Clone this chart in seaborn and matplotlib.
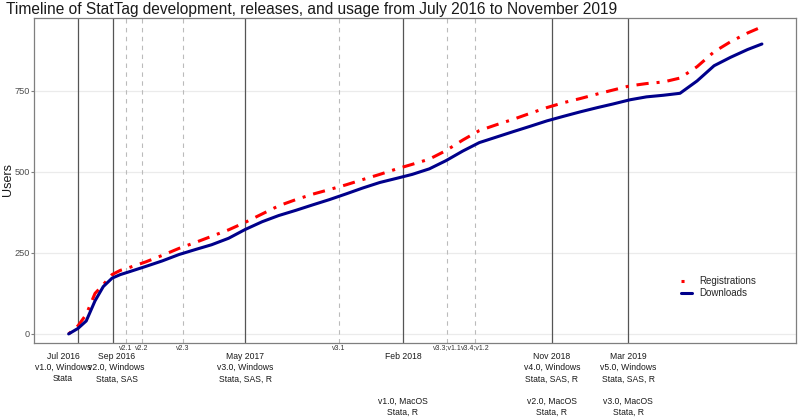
import numpy as np
import pandas as pd
import seaborn as sns
import matplotlib.pyplot as plt
import matplotlib.dates as mdates
from matplotlib.transforms import blended_transform_factory

# cumulative users
dates = ['2016-06-14', '2016-07-01', '2016-07-16', '2016-08-01', '2016-08-16', '2016-09-01',
         '2016-09-16', '2016-10-01', '2016-11-01', '2016-12-01', '2017-01-01', '2017-02-01',
         '2017-03-01', '2017-04-01', '2017-05-01', '2017-06-01', '2017-07-01', '2017-08-01',
         '2017-09-01', '2017-10-01', '2017-11-01', '2017-12-01', '2018-01-01', '2018-02-01',
         '2018-03-01', '2018-04-01', '2018-05-01', '2018-06-01', '2018-07-01', '2018-08-01',
         '2018-09-01', '2018-10-01', '2018-11-01', '2018-12-01', '2019-01-01', '2019-02-01',
         '2019-03-01', '2019-04-01', '2019-05-01', '2019-06-01', '2019-07-01', '2019-08-01',
         '2019-09-01', '2019-10-01', '2019-11-01', '2019-11-27']
registrations = [0, 25, 60, 125, 152, 183, 196, 204, 222, 242, 264, 283, 301, 321, 344, 370,
                 395, 414, 431, 445, 460, 476, 492, 509, 523, 539, 565, 598, 627, 645, 662,
                 680, 698, 713, 726, 740, 752, 765, 772, 777, 789, 824, 870, 901, 928, 947]
downloads = [0, 17, 40, 102, 146, 172, 183, 191, 208, 225, 245, 261, 275, 295, 322, 346,
             365, 381, 398, 414, 432, 450, 467, 480, 492, 509, 534, 564, 590, 607, 624,
             640, 657, 671, 685, 698, 709, 722, 731, 736, 742, 780, 827, 853, 877, 894]

release_dates = ['2016-07-01', '2016-09-02', '2017-05-01', '2018-02-12', '2018-11-10', '2019-03-29']
release_labels = [
    'Jul 2016\nv1.0, Windows\nStata',
    'Sep 2016\nv2.0, Windows\nStata, SAS',
    'May 2017\nv3.0, Windows\nStata, SAS, R',
    'Feb 2018\n\n\n\nv1.0, MacOS\nStata, R',
    'Nov 2018\nv4.0, Windows\nStata, SAS, R\n\nv2.0, MacOS\nStata, R',
    'Mar 2019\nv5.0, Windows\nStata, SAS, R\n\nv3.0, MacOS\nStata, R',
]
minor_dates = ['2016-09-26', '2016-10-25', '2017-01-08', '2017-10-19', '2018-05-03', '2018-06-24']
minor_labels = ['v2.1', 'v2.2', 'v2.3', 'v3.1', 'v3.3;v1.1', 'v3.4;v1.2']

df = pd.DataFrame({
    'date': pd.to_datetime(dates * 2),
    'users': registrations + downloads,
    'series': ['Registrations'] * len(dates) + ['Downloads'] * len(dates),
})

sns.set_style('white')
plt.rcParams['font.family'] = ['Liberation Sans', 'DejaVu Sans']

fig = plt.figure(figsize=(8, 4.2), dpi=100)
ax = fig.add_axes([0.0425, 0.1833, 0.9525, 0.7737])

for d in release_dates:
    ax.axvline(pd.Timestamp(d), color='#555555', lw=0.9, zorder=1)
for d in minor_dates:
    ax.axvline(pd.Timestamp(d), color='#BBBBBB', lw=0.8, ls=(0, (4, 4)), zorder=1)

sns.lineplot(data=df, x='date', y='users', hue='series', style='series',
             hue_order=['Registrations', 'Downloads'],
             palette={'Registrations': '#FF0000', 'Downloads': '#00008B'},
             dashes={'Registrations': (1, 2.6, 4, 2.6), 'Downloads': ''},
             linewidth=2.2, ax=ax, zorder=3)

ax.set_xlim(pd.Timestamp('2016-04-12'), pd.Timestamp('2020-01-28'))
ax.set_ylim(-28, 974)
ax.set_yticks([0, 250, 500, 750])
ax.set_xticks([])
ax.set_xlabel('')
ax.set_ylabel('')
ax.yaxis.grid(True, color='#EBEBEB', lw=0.9, zorder=0)
ax.set_axisbelow(True)
for s in ax.spines.values():
    s.set_color('#7F7F7F')
    s.set_linewidth(0.9)
ax.tick_params(axis='y', length=2.2, width=0.8, color='#7F7F7F', labelsize=6.6,
               labelcolor='#4D4D4D', pad=1, left=True)

handles, labels = ax.get_legend_handles_labels()
keep = [i for i, l in enumerate(labels) if l in ('Registrations', 'Downloads')]
ax.legend([handles[i] for i in keep], [labels[i] for i in keep],
          loc='center left', bbox_to_anchor=(0.838, 0.172), frameon=False,
          fontsize=7, handlelength=1.1, handletextpad=0.75, labelspacing=0.25)

trans = blended_transform_factory(ax.transData, ax.transAxes)
nudge = {0: -15, 1: 4}
for i, (d, lab) in enumerate(zip(release_dates, release_labels)):
    ax.annotate(lab, xy=(mdates.date2num(pd.Timestamp(d)), 0), xycoords=trans,
                xytext=(nudge.get(i, 0), -9), textcoords='offset pixels',
                ha='center', va='top', fontsize=6.2, linespacing=1.32,
                color='#1A1A1A', annotation_clip=False)
for d, lab in zip(minor_dates, minor_labels):
    ax.annotate(lab, xy=(mdates.date2num(pd.Timestamp(d)), 0), xycoords=trans,
                xytext=(0, -5), textcoords='offset pixels',
                ha='center', va='center', fontsize=5, color='#333333',
                annotation_clip=False)

fig.text(6 / 800, 1 - 9.5 / 420,
         'Timeline of StatTag development, releases, and usage from July 2016 to November 2019',
         fontsize=11.2, ha='left', va='center', color='#1A1A1A')
fig.text(7.5 / 800, 1 - 180 / 420, 'Users', rotation=90, ha='center', va='center',
         fontsize=9, color='#1A1A1A')

fig.savefig('out.png', dpi=100)
